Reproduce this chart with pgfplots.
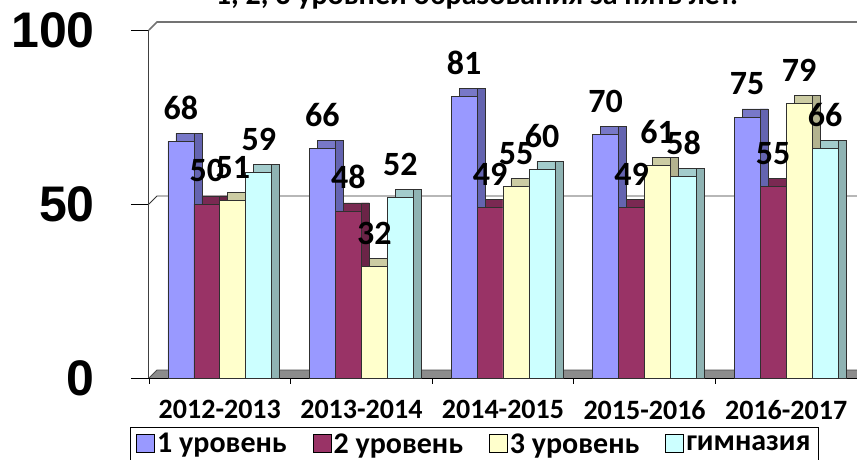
\documentclass[border=0pt]{standalone}
\usepackage{fontspec}
\setmainfont{Carlito}
\newfontfamily\arialf{Liberation Sans}
\usepackage{pgfplots}
\pgfplotsset{compat=1.18}
\usepackage{pgfplotstable}

\definecolor{aF}{HTML}{9999FF}\definecolor{aT}{HTML}{7878C8}\definecolor{aS}{HTML}{6464B0}
\definecolor{bF}{HTML}{993366}\definecolor{bT}{HTML}{7A2952}\definecolor{bS}{HTML}{6B2447}
\definecolor{cF}{HTML}{FFFFCC}\definecolor{cT}{HTML}{CCCCA3}\definecolor{cS}{HTML}{B3B38F}
\definecolor{dF}{HTML}{CCFFFF}\definecolor{dT}{HTML}{A3CCCC}\definecolor{dS}{HTML}{8FB3B3}
\definecolor{edge}{HTML}{303030}
\definecolor{floorc}{HTML}{8C8C8C}

\pgfplotstableread{
x a b c d
0 68 50 51 59
1 66 48 32 52
2 81 49 55 60
3 70 49 61 58
4 75 55 79 66
}\data

\begin{document}
\begin{tikzpicture}
\begin{axis}[
  scale only axis, width=708pt, height=348pt,
  xmin=-0.5, xmax=4.5, ymin=0, ymax=100,
  clip=false,
  axis line style={draw=none},
  axis x line*=bottom, axis y line*=left,
  tick align=outside, major tick length=18pt,
  xtick={0,1,2,3,4},
  xticklabels={2012-2013,2013-2014,2014-2015,2015-2016,2016-2017},
  xtick style={draw=none},
  xticklabel style={font=\bfseries\fontsize{28}{28}\selectfont, yshift=-1pt},
  ytick={0,50,100}, yticklabels={0,50,100},
  ytick style={draw=black, line width=0.8pt},
  yticklabel style={font=\arialf\bfseries\fontsize{50}{50}\selectfont, inner sep=0pt, xshift=-36pt},
  legend style={at={(rel axis cs:0,0)}, anchor=north west, xshift=-19pt, yshift=-49pt,
    draw=black, line width=0.8pt, font=\bfseries\fontsize{30}{30}\selectfont,
    inner xsep=6pt, inner ysep=4pt,
    /tikz/every even column/.append style={column sep=24pt}},
  legend columns=4,
  legend cell align=left,
]
% floor
\fill[floorc] (axis cs:-0.5,0) -- (axis cs:4.62,0) -- (axis cs:4.62,2.3) -- (axis cs:-0.4435,2.3) -- cycle;
\draw[black!70, line width=0.8pt] (axis cs:-0.5,0) -- (axis cs:-0.4435,2.3) -- (axis cs:4.62,2.3);
% back wall grid
\draw[black!80, line width=0.8pt] (axis cs:-0.5,50) -- (axis cs:-0.4435,52.3) -- (axis cs:4.62,52.3);
\draw[black!55, line width=1.6pt] (axis cs:-0.5,100) -- (axis cs:-0.4435,102.3) -- (axis cs:4.62,102.3);
% axes
\draw[black!75, line width=1pt] (axis cs:-0.5,0) -- (axis cs:-0.5,100);
\draw[black, line width=0.8pt] (axis cs:-0.5,0) -- (axis cs:4.62,0);
\draw[black, line width=0.8pt] (axis cs:-0.5,0) -- ([yshift=-6pt]axis cs:-0.5,0);
\draw[black, line width=0.8pt] (axis cs:0.5,0) -- ([yshift=-6pt]axis cs:0.5,0);
\draw[black, line width=0.8pt] (axis cs:1.5,0) -- ([yshift=-6pt]axis cs:1.5,0);
\draw[black, line width=0.8pt] (axis cs:2.5,0) -- ([yshift=-6pt]axis cs:2.5,0);
\draw[black, line width=0.8pt] (axis cs:3.5,0) -- ([yshift=-6pt]axis cs:3.5,0);
\draw[black, line width=0.8pt] (axis cs:4.5,0) -- ([yshift=-6pt]axis cs:4.5,0);

% series 1
\addplot[ybar, bar width=0.1836, bar shift=-0.2189, fill=aT, draw=edge, line width=0.6pt, forget plot] table[x=x, y expr=\thisrow{a}+2.3] {\data};
\addplot[ybar, bar width=0.0565, bar shift=-0.15535, fill=aS, draw=edge, line width=0.6pt, forget plot] table[x=x, y expr=\thisrow{a}+2.3] {\data};
\addplot[ybar, bar width=0.1836, bar shift=-0.2754, fill=aF, draw=edge, line width=0.6pt,
  legend image code/.code={\draw[fill=aF, draw=black, line width=0.8pt] (0pt,-8pt) rectangle (18pt,10pt);}] table[x=x, y=a] {\data};
\addlegendentry{1 уровень}
% series 2
\addplot[ybar, bar width=0.1836, bar shift=-0.0353, fill=bT, draw=edge, line width=0.6pt, forget plot] table[x=x, y expr=\thisrow{b}+2.3] {\data};
\addplot[ybar, bar width=0.0565, bar shift=0.02825, fill=bS, draw=edge, line width=0.6pt, forget plot] table[x=x, y expr=\thisrow{b}+2.3] {\data};
\addplot[ybar, bar width=0.1836, bar shift=-0.0918, fill=bF, draw=edge, line width=0.6pt,
  legend image code/.code={\draw[fill=bF, draw=black, line width=0.8pt] (0pt,-8pt) rectangle (18pt,10pt);}] table[x=x, y=b] {\data};
\addlegendentry{2 уровень}
% series 3
\addplot[ybar, bar width=0.1836, bar shift=0.1483, fill=cT, draw=edge, line width=0.6pt, forget plot] table[x=x, y expr=\thisrow{c}+2.3] {\data};
\addplot[ybar, bar width=0.0565, bar shift=0.21185, fill=cS, draw=edge, line width=0.6pt, forget plot] table[x=x, y expr=\thisrow{c}+2.3] {\data};
\addplot[ybar, bar width=0.1836, bar shift=0.0918, fill=cF, draw=edge, line width=0.6pt,
  legend image code/.code={\draw[fill=cF, draw=black, line width=0.8pt] (0pt,-8pt) rectangle (18pt,10pt);}] table[x=x, y=c] {\data};
\addlegendentry{3 уровень}
% series 4
\addplot[ybar, bar width=0.1836, bar shift=0.3319, fill=dT, draw=edge, line width=0.6pt, forget plot] table[x=x, y expr=\thisrow{d}+2.3] {\data};
\addplot[ybar, bar width=0.0565, bar shift=0.39545, fill=dS, draw=edge, line width=0.6pt, forget plot] table[x=x, y expr=\thisrow{d}+2.3] {\data};
\addplot[ybar, bar width=0.1836, bar shift=0.2754, fill=dF, draw=edge, line width=0.6pt,
  legend image code/.code={\draw[fill=dF, draw=black, line width=0.8pt] (0pt,-8pt) rectangle (18pt,10pt);}] table[x=x, y=d] {\data};
\addlegendentry{гимназия}

% value labels
\pgfplotsset{lbl/.style={only marks, mark=*, mark size=0pt, mark options={draw=none, fill=none}, forget plot,
  nodes near coords, point meta=explicit symbolic,
  every node near coord/.append style={anchor=base, yshift=14pt, inner sep=0pt, font=\bfseries\fontsize{34}{34}\selectfont, text=black}}}
\addplot[lbl] table[x expr=\thisrow{x}-0.2754, y expr=\thisrow{a}+2.3, meta=a] {\data};
\addplot[lbl] table[x expr=\thisrow{x}-0.0918, y expr=\thisrow{b}+2.3, meta=b] {\data};
\addplot[lbl] table[x expr=\thisrow{x}+0.0918, y expr=\thisrow{c}+2.3, meta=c] {\data};
\addplot[lbl] table[x expr=\thisrow{x}+0.2754, y expr=\thisrow{d}+2.3, meta=d] {\data};

% clipped title
\node[anchor=base, font=\bfseries\fontsize{30}{30}\selectfont, inner sep=0pt] at (rel axis cs:0,0) [xshift=328pt, yshift=374pt] {1, 2, 3 уровней образования за пять лет.};
\end{axis}
\pgfresetboundingbox
\useasboundingbox (-149pt,-81pt) rectangle (708pt,378pt);
\end{tikzpicture}
\end{document}
